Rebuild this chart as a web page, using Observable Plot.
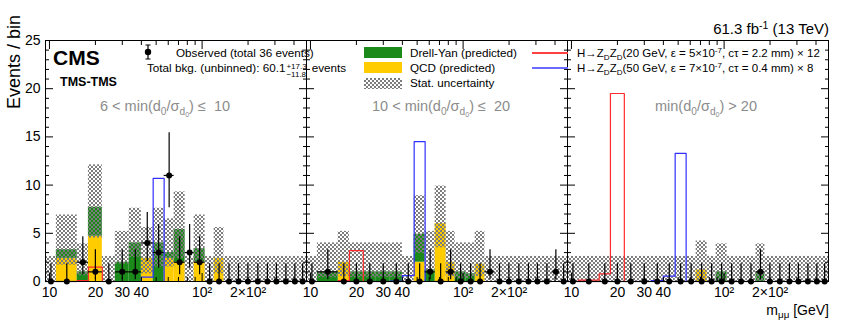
<!DOCTYPE html>
<html><head><meta charset="utf-8">
<script src="https://cdn.jsdelivr.net/npm/d3@7"></script>
<script src="https://cdn.jsdelivr.net/npm/@observablehq/plot@0.6"></script>
<style>
body{margin:0;background:#fff;}
#wrap{position:relative;width:847px;height:320px;font-family:"Liberation Sans",Arial,Helvetica,sans-serif;color:#000;}
#wrap svg{position:absolute;left:0;top:0;}
.t{position:absolute;white-space:nowrap;line-height:1;}
.sb{font-size:70%;vertical-align:-0.35em;}
.sp{font-size:70%;vertical-align:0.5em;}
.ud{display:inline-block;vertical-align:-5px;font-size:8px;line-height:8px;margin-left:1px;margin-right:5px;}
.ud span{display:block;}
.box{position:absolute;width:38px;height:11px;}
.reg{color:#8c8c8c;font-size:14.5px;}
.lg{font-size:11.7px;}
.ll{position:absolute;left:532px;width:36px;height:2px;}
</style></head><body><div id="wrap"></div>
<script>
// ---- data ----
const binEdges = [9.42, 11.1, 15.2, 18.0, 22.2, 27.0, 33.3, 40.0, 47.8, 56.4, 65.6, 77.4, 88.7, 104.6, 120, 139, 162, 185, 215, 250, 287, 328, 382, 430, 483];
const panels = ["6 < min <= 10", "10 < min <= 20", "min > 20"];

const obs1 = [0,0,2,1,0,1,1,4,3,11,2,3,2,0,0,0,0,0,0,0,0,0,0,0];
const obs2 = [0,1,0,0,0,0,0,0,0,1,0,1,0,0,0,1,0,0,0,0,0,0,1,0];
const obs3 = [0,0,0,0,0,0,0,0,0,0,0,0,0,0,0,0,1,0,0,0,0,0,0,0];

const qcd1 = [0,2.4,0,4.7,0,0,0,2.4,0,2.4,2.0,0,2.0,0,2.4,0,0,0,0,0,0,0,0,0];
const qcd2 = [0,0,2.0,0,0,0,0,0,2.0,0,6.0,2.0,0,0,1.8,0,0,0,0,0,0,0,0,0];
const qcd3 = [0,0,0,0,0,0,0,0,0,0,1.2,0,0,0,0,0,0,0,0,0,0,0,0,0];

const dy1 = [0,0.9,1.0,3.0,0,2.0,4.0,0,4.0,0.6,3.4,0,1.4,0,0,0,0,0,0,0,0,0,0,0];
const dy2 = [0,1.0,0,1.0,1.0,1.0,1.0,0,2.9,1.2,0,0,1.0,0.8,0,0,0,0,0,0,0,0,0,0];
const dy3 = [0,0,0,0,0,0,0,0,0,0,0,0,1.0,0,0,0,1.0,0,0,0,0,0,0,0];

const uncLo1 = [0,1.7,0.6,4.5,0,1.8,2.5,0.8,1.5,1.5,2.4,0,2.0,0,0.8,0,0,0,0,0,0,0,0,0];
const uncLo2 = [0,0.4,0.5,0.4,0.4,0.4,0.4,0,2.9,1.0,3.5,0.5,0.3,0.3,0.5,0,0,0,0,0,0,0,0,0];
const uncLo3 = [0,0,0,0,0,0,0,0,0,0,0,0,0,0,0,0,0,0,0,0,0,0,0,0];

const uncHi1 = [2.6,6.9,3.9,12.1,2.6,5.2,7.6,5.6,7.6,6.5,9.3,2.6,6.9,2.6,5.6,2.6,2.6,2.6,2.6,2.6,2.6,2.6,2.6,2.6];
const uncHi2 = [2.6,4.0,5.2,4.0,4.0,4.0,4.0,2.6,8.9,5.2,9.9,5.2,4.0,4.0,5.2,2.6,2.6,2.6,2.6,2.6,2.6,2.6,2.6,2.6];
const uncHi3 = [2.6,2.6,2.6,2.6,2.6,2.6,2.6,2.6,2.6,2.6,4.2,2.6,3.9,2.6,2.6,2.6,3.9,2.6,2.6,2.6,2.6,2.6,2.6,2.6];

const sig20_1 = [0,0,0.1,1.5,0,0,0,0,0,0,0,0,0,0,0,0,0,0,0,0,0,0,0,0];
const sig20_2 = [0,0,0.1,3.2,0,0,0,0,0,0,0,0,0,0,0,0,0,0,0,0,0,0,0,0];
const sig20_3 = [0,0.15,0.8,19.5,0,0,0,0,0,0,0,0,0,0,0,0,0,0,0,0,0,0,0,0];

const sig50_1 = [0,0,0,0,0,0,0,0.45,10.7,0,0,0,0,0,0,0,0,0,0,0,0,0,0,0];
const sig50_2 = [0,0,0,0,0,0,0.05,0.6,14.5,0,0,0,0,0,0,0,0,0,0,0,0,0,0,0];
const sig50_3 = [0,0,0,0,0,0,0.1,0.55,13.3,0,0,0,0,0,0,0,0,0,0,0,0,0,0,0];

// Garwood 68% intervals for the observed counts
const countKeys = [0, 1, 2, 3, 4, 11];
const garwoodLo = [0, 0.173, 0.708, 1.367, 2.086, 7.65];
const garwoodHi = [1.841, 3.300, 4.638, 5.918, 7.163, 15.43];

const yMajor = [0, 5, 10, 15, 20, 25];
const yMinor = [1,2,3,4,6,7,8,9,11,12,13,14,16,17,18,19,21,22,23,24];
const xLabelTicks = [10, 20, 30, 40, 100, 200];
const xLabelText = ["10", "20", "30", "40", "10²", "2×10²"];
const xMajor = [10, 100];
const xMinor = [20, 30, 40, 50, 60, 70, 80, 90, 200, 300, 400];

// ---- build tables ----
const O = [obs1, obs2, obs3], Q = [qcd1, qcd2, qcd3], D = [dy1, dy2, dy3];
const L = [uncLo1, uncLo2, uncLo3], H = [uncHi1, uncHi2, uncHi3];
const R = [sig20_1, sig20_2, sig20_3], B = [sig50_1, sig50_2, sig50_3];
const rows = [], sigPts = [];
panels.forEach((p, i) => {
  for (let j = 0; j < binEdges.length - 1; j++) {
    const x1 = binEdges[j], x2 = binEdges[j + 1], n = O[i][j];
    const k = countKeys.indexOf(n);
    rows.push({panel: p, x1, x2, xc: Math.sqrt(x1 * x2), qcd: Q[i][j], dy: D[i][j],
      lo: L[i][j], hi: H[i][j], n, eLo: garwoodLo[k], eHi: garwoodHi[k]});
    sigPts.push({panel: p, x: x1, red: R[i][j], blue: B[i][j]});
    sigPts.push({panel: p, x: x2, red: R[i][j], blue: B[i][j]});
  }
});

const blank = () => "";
const chart = Plot.plot({
  width: 847, height: 320,
  marginTop: 40, marginBottom: 39, marginLeft: 44, marginRight: 18,
  style: {fontFamily: "'Liberation Sans', Arial, sans-serif", fontSize: "14px", color: "#000", background: "transparent"},
  fx: {domain: panels, padding: 0, axis: null, label: null},
  x: {type: "log", domain: [9.42, 483], nice: false},
  y: {domain: [0, 25]},
  marks: [
    Plot.rect(rows.filter(d => d.qcd > 0), {fx: "panel", x1: "x1", x2: "x2", y1: 0, y2: "qcd", fill: "#ffcc00"}),
    Plot.rect(rows.filter(d => d.dy > 0), {fx: "panel", x1: "x1", x2: "x2", y1: "qcd", y2: d => d.qcd + d.dy, fill: "#1b8a1b"}),
    Plot.rect(rows, {fx: "panel", x1: "x1", x2: "x2", y1: "lo", y2: "hi", fill: "url(#hatch)"}),
    Plot.line(sigPts, {fx: "panel", x: "x", y: "red", stroke: "#ff2a2a", strokeWidth: 1.2}),
    Plot.line(sigPts, {fx: "panel", x: "x", y: "blue", stroke: "#3030ff", strokeWidth: 1.2}),
    Plot.frame({stroke: "#000", strokeWidth: 1}),
    Plot.axisY({anchor: "left", ticks: yMajor, tickSize: 0, tickPadding: 5, fontSize: 14, label: null}),
    Plot.axisY({anchor: "left", ticks: yMajor, tickSize: -8, tickFormat: blank, facetAnchor: null, label: null}),
    Plot.axisY({anchor: "left", ticks: yMinor, tickSize: -4, tickFormat: blank, facetAnchor: null, label: null}),
    Plot.axisY({anchor: "right", ticks: yMajor, tickSize: -8, tickFormat: blank, facetAnchor: null, label: null}),
    Plot.axisY({anchor: "right", ticks: yMinor, tickSize: -4, tickFormat: blank, facetAnchor: null, label: null}),
    Plot.axisX({anchor: "bottom", ticks: xLabelTicks, tickFormat: v => xLabelText[xLabelTicks.indexOf(v)], tickSize: 0, tickPadding: 6, fontSize: 14, label: null}),
    Plot.axisX({anchor: "bottom", ticks: xMajor, tickSize: -8, tickFormat: blank, label: null}),
    Plot.axisX({anchor: "bottom", ticks: xMinor, tickSize: -4, tickFormat: blank, label: null}),
    Plot.axisX({anchor: "top", ticks: xMajor, tickSize: -8, tickFormat: blank, label: null}),
    Plot.axisX({anchor: "top", ticks: xMinor, tickSize: -4, tickFormat: blank, label: null}),
    Plot.ruleY(rows, {fx: "panel", y: "n", x1: "x1", x2: "x2", stroke: "#000", strokeWidth: 1.2}),
    Plot.ruleX(rows, {fx: "panel", x: "xc", y1: "eLo", y2: "eHi", stroke: "#000", strokeWidth: 1.2}),
    Plot.dot(rows, {fx: "panel", x: "xc", y: "n", r: 3, fill: "#000", stroke: "none"})
  ]
});

const NS = "http://www.w3.org/2000/svg";
const defs = document.createElementNS(NS, "defs");
const pat = document.createElementNS(NS, "pattern");
pat.setAttribute("id", "hatch"); pat.setAttribute("patternUnits", "userSpaceOnUse");
pat.setAttribute("width", "4"); pat.setAttribute("height", "4");
[[0, 0], [2, 2]].forEach(([x, y]) => {
  const r = document.createElementNS(NS, "rect");
  r.setAttribute("x", x); r.setAttribute("y", y); r.setAttribute("width", 2); r.setAttribute("height", 2);
  r.setAttribute("fill", "#7c7c7c");
  pat.appendChild(r);
});
defs.appendChild(pat);
chart.insertBefore(defs, chart.firstChild);

const wrap = document.getElementById("wrap");
wrap.appendChild(chart);

const hatchCss = "background:repeating-conic-gradient(#7c7c7c 0 25%, #fff 0 50%) 0 0/4px 4px;";
wrap.insertAdjacentHTML("beforeend", `
<div class="t" style="right:18px;top:20px;font-size:15px">61.3 fb<span class="sp">-1</span> (13 TeV)</div>
<div class="t" style="left:14px;top:62px;font-size:18px;transform:translate(-50%,-50%) rotate(-90deg)">Events / bin</div>
<div class="t" style="left:53px;top:47px;font-size:21px;font-weight:bold">CMS</div>
<div class="t" style="left:60px;top:76px;font-size:12.5px;font-weight:bold">TMS-TMS</div>
<svg width="12" height="16" style="left:142px;top:44px;position:absolute"><line x1="6" y1="1" x2="6" y2="15" stroke="#000" stroke-width="1.2"/><line x1="3.5" y1="1" x2="8.5" y2="1" stroke="#000"/><line x1="3.5" y1="15" x2="8.5" y2="15" stroke="#000"/><circle cx="6" cy="8" r="3.2" fill="#000"/></svg>
<div class="t lg" style="left:176px;top:47px">Observed (total 36 events)</div>
<div class="t lg" style="left:147px;top:62px">Total bkg. (unbinned): 60.1<span class="ud"><span>+17.3</span><span>&minus;11.8</span></span>events</div>
<div class="box" style="left:364px;top:47px;background:#1b8a1b"></div>
<div class="box" style="left:364px;top:62px;background:#ffcc00"></div>
<div class="box" style="left:364px;top:78px;${hatchCss}"></div>
<div class="t lg" style="left:410px;top:47px">Drell-Yan (predicted)</div>
<div class="t lg" style="left:410px;top:62px">QCD (predicted)</div>
<div class="t lg" style="left:410px;top:77px">Stat. uncertainty</div>
<div class="ll" style="top:52px;background:#ff4040"></div>
<div class="ll" style="top:67px;background:#6a6aff"></div>
<div class="t" style="left:577px;top:47px;font-size:11.5px">H&rarr;Z<span class="sb">D</span>Z<span class="sb">D</span>(20 GeV, &epsilon; = 5&times;10<span class="sp">-7</span>, c&tau; = 2.2 mm) &times; 12</div>
<div class="t" style="left:577px;top:62px;font-size:11.5px">H&rarr;Z<span class="sb">D</span>Z<span class="sb">D</span>(50 GeV, &epsilon; = 7&times;10<span class="sp">-7</span>, c&tau; = 0.4 mm) &times; 8</div>
<div class="t reg" style="left:100px;top:99px">6 &lt; min(d<span class="sb">0</span>/&sigma;<span class="sb">d<span class="sb">0</span></span>) &le;&nbsp; 10</div>
<div class="t reg" style="left:372px;top:99px">10 &lt; min(d<span class="sb">0</span>/&sigma;<span class="sb">d<span class="sb">0</span></span>) &le;&nbsp; 20</div>
<div class="t reg" style="left:655px;top:99px">min(d<span class="sb">0</span>/&sigma;<span class="sb">d<span class="sb">0</span></span>) &gt; 20</div>
<div class="t" style="right:18px;top:303px;font-size:14px">m<span class="sb">&mu;&mu;</span> [GeV]</div>
`);
</script>
</body></html>
